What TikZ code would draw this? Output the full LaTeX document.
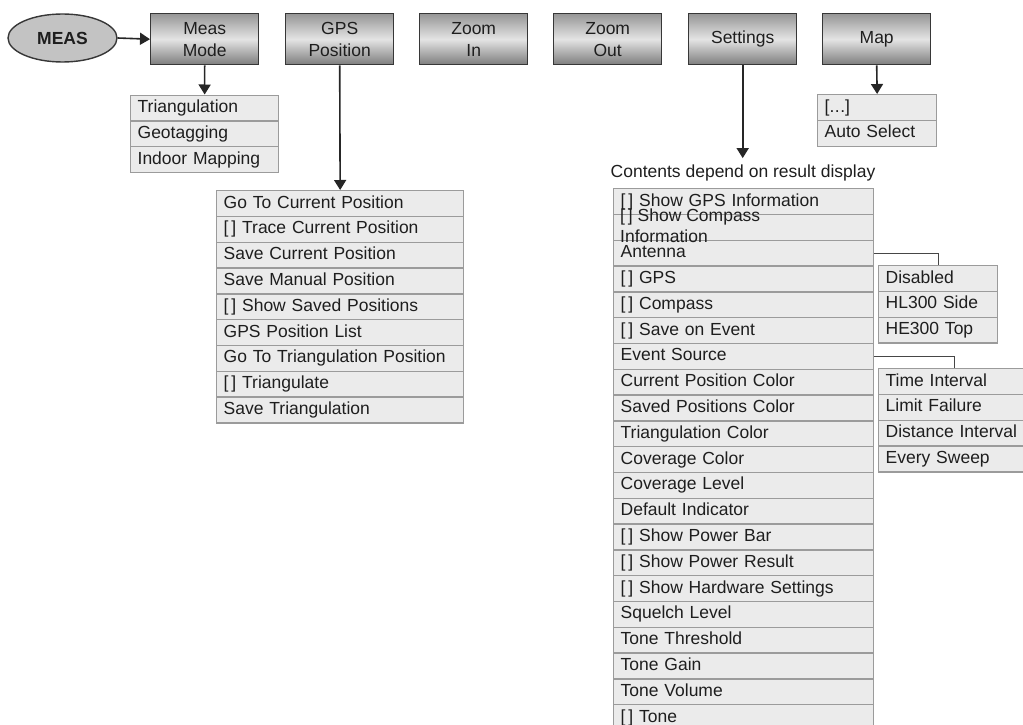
\documentclass[tikz,border=0pt]{standalone}
\usepackage{fontspec}
\setmainfont{Liberation Sans}
\usetikzlibrary{arrows.meta,shapes.geometric}
\definecolor{btnedge}{RGB}{55,55,55}
\definecolor{btntop}{RGB}{150,150,150}
\definecolor{btnbot}{RGB}{125,125,125}
\definecolor{btnlight}{RGB}{228,228,228}
\definecolor{itemfill}{RGB}{235,235,235}
\definecolor{itemedge}{RGB}{155,155,155}
\definecolor{txt}{RGB}{30,30,30}
\definecolor{conn}{RGB}{70,70,70}
\newcommand{\fs}{\fontsize{17.5}{22}\selectfont}
\begin{document}
\begin{tikzpicture}[x=1pt,y=-1pt,
  btn/.style={draw=btnedge, line width=1.4pt, top color=btntop, bottom color=btnbot, middle color=btnlight,
    minimum width=108pt, minimum height=51pt, inner sep=0pt, align=center, font=\fs, text=txt, anchor=north west},
  itm/.style={draw=itemedge, line width=1.3pt, fill=itemfill, anchor=north west, minimum height=25.8pt,
    inner xsep=7pt, inner ysep=0pt, text width=#1, align=left, text height=13pt, text depth=4pt, font=\fs, text=txt},
  arr/.style={draw=black!85, line width=1.6pt, -{Triangle[width=12pt,length=10pt]}},
  con/.style={draw=conn, line width=1.3pt}]
\useasboundingbox (0,0) rectangle (1023,725);

% MEAS ellipse
\node[ellipse, draw=btnedge, line width=1.4pt, fill={rgb,255:red,195;green,195;blue,195},
  minimum width=109pt, minimum height=48pt, inner sep=0pt, font=\fs\bfseries, text=txt] (meas) at (62.5,38) {MEAS};

% top buttons
\node[btn] (mm)  at (150,13) {Meas\\Mode};
\node[btn] (gps) at (285,13) {GPS\\Position};
\node[btn] (zi)  at (419,13) {Zoom\\In};
\node[btn] (zo)  at (553,13) {Zoom\\Out};
\node[btn] (set) at (688,13) {Settings};
\node[btn] (map) at (822,13) {Map};

\draw[arr] (meas.east) -- (mm.west);

% Meas Mode list
\foreach \t [count=\i] in {Triangulation, Geotagging, Indoor Mapping}
  \node[itm=134pt] (m\i) at (130,{94.5+(\i-1)*25.8}) {\t};
\draw[arr] (mm.south) -- (m1.north);

% GPS Position list
\foreach \t [count=\i] in {Go To Current Position, {[\,] Trace Current Position}, Save Current Position,
  Save Manual Position, {[\,] Show Saved Positions}, GPS Position List, Go To Triangulation Position,
  {[\,] Triangulate}, Save Triangulation}
  \node[itm=233pt] (g\i) at (216,{190+(\i-1)*25.8}) {\t};
\draw[arr] (gps.south) -- (g1.north);

% Map list
\node[itm=105pt] (mp1) at (817,94) {[.\kern0.5pt.\kern0.5pt.]};
\node[itm=105pt] (mp2) at (817,119.8) {Auto Select};
\draw[arr] (map.south) -- (mp1.north);

% Settings
\node[font=\fs, text=txt, inner xsep=0pt, inner ysep=6pt, anchor=base] (cd) at (743,177) {Contents depend on result display};
\draw[arr] (set.south) -- (set.south |- cd.north);

\foreach \t [count=\i] in {{[\,] Show GPS Information}, {}, Antenna, {[\,] GPS}, {[\,] Compass},
  {[\,] Save on Event}, Event Source, Current Position Color, Saved Positions Color, Triangulation Color,
  Coverage Color, Coverage Level, Default Indicator, {[\,] Show Power Bar}, {[\,] Show Power Result},
  {[\,] Show Hardware Settings}, Squelch Level, Tone Threshold, Tone Gain, Tone Volume, {[\,] Tone}}
  \node[itm=246pt] (s\i) at (613,{188+(\i-1)*25.8}) {\t};
\node[font=\fontsize{17.5}{21}\selectfont, text=txt, align=left, inner sep=0pt, anchor=north west] (s2t) at (620,208.5)
  {[\,] Show Compass\\Information};

% Antenna submenu
\foreach \t [count=\i] in {Disabled, HL300 Side, HE300 Top}
  \node[itm=105pt] (a\i) at (878,{265+(\i-1)*25.8}) {\t};
\draw[con] (s3.east) -| (a1.north);

% Event Source submenu
\foreach \t [count=\i] in {Time Interval, Limit Failure, Distance Interval, Every Sweep}
  \node[itm=138pt] (e\i) at (878,{368+(\i-1)*25.8}) {\t};
\draw[con] (s7.east) -| (e1.north);
\end{tikzpicture}
\end{document}
